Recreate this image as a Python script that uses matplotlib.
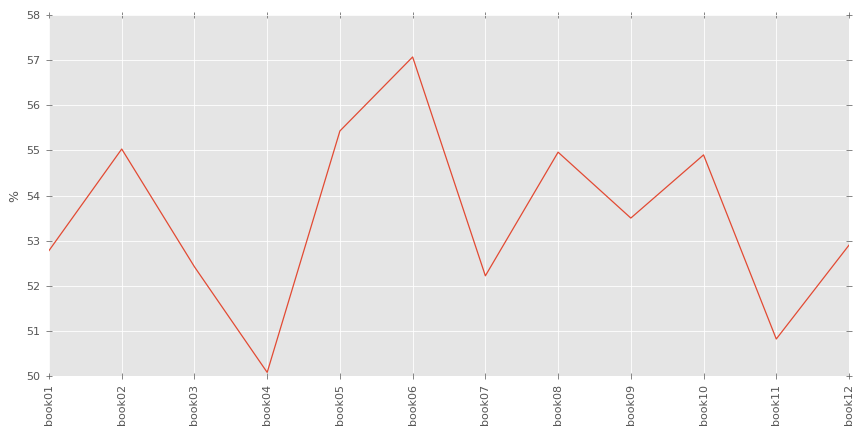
import matplotlib
matplotlib.use("Agg")
import matplotlib.pyplot as plt

plt.style.use("ggplot")

books = ["book%02d" % i for i in range(1, 13)]
pct = [52.78, 55.03, 52.42, 50.08, 55.43, 57.07, 52.22, 54.96, 53.50, 54.90, 50.82, 52.90]

fig = plt.figure(figsize=(8.64, 4.32), dpi=100)
ax = fig.add_axes([49 / 864, 56 / 432, 800 / 864, 361 / 432])
ax.plot(range(len(books)), pct, color="#E24A33", linewidth=0.9)
ax.set_xlim(0, len(books) - 1)
ax.set_ylim(50, 58)
ax.set_xticks(range(len(books)))
ax.set_xticklabels(books, rotation=90, fontsize=8, color="#555555")
ax.tick_params(axis="y", labelsize=8, labelcolor="#555555")
ax.tick_params(top=True, right=True, direction="inout", length=5, width=0.5,
               color="#555555")
ax.set_ylabel("%", fontsize=9, color="#555555")
ax.grid(True, color="white", linewidth=0.6)
for s in ax.spines.values():
    s.set_visible(False)

fig.savefig("out.png", dpi=100)
